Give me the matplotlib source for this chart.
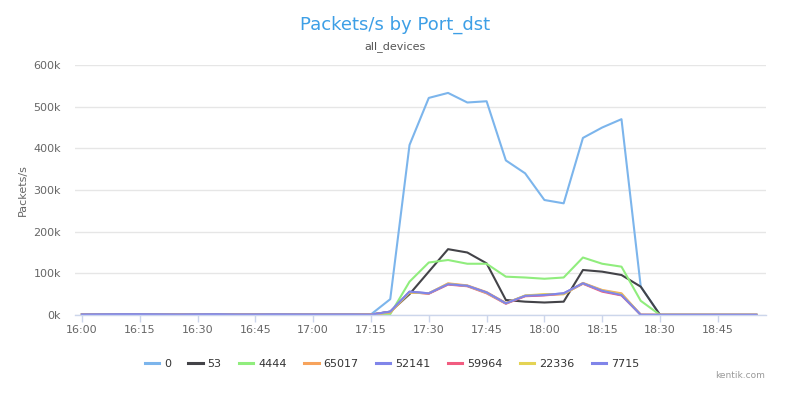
import matplotlib
matplotlib.use('Agg')
import matplotlib.pyplot as plt
import matplotlib.dates as mdates
import pandas as pd

plt.rcParams['font.family'] = ['DejaVu Sans']

# 5-minute samples, 16:00 .. 18:55
times = pd.date_range('2017-01-01 16:00', '2017-01-01 18:55', freq='5min')

lead = [1500, 1800, 2000, 2000, 1800, 1500, 1800, 2000, 1500, 1500, 1800, 1600, 1500, 1500, 1500]
tail = [300, 300, 300, 300, 300, 300]

port_0 = lead + [1500, 38000, 408000, 521000, 533000, 510000, 513000, 371000, 340000,
                 276000, 268000, 425000, 450000, 470000, 68000] + tail
port_53 = lead + [1000, 8000, 50000, 104000, 158000, 150000, 124000, 36000, 32000,
                  30000, 32000, 108000, 104000, 96000, 68000] + tail
port_4444 = lead + [1000, 2000, 80000, 126000, 132000, 123000, 123000, 92000, 90000,
                    87000, 90000, 138000, 123000, 116000, 34000] + tail
port_65017 = lead + [1000, 6000, 54000, 52000, 76000, 71000, 55000, 29000, 46000,
                     49000, 50000, 77000, 60000, 52000, 500] + tail
port_52141 = lead + [1000, 8000, 56000, 52000, 74000, 70000, 54000, 28000, 46000,
                     48000, 52000, 76000, 58000, 48000, 500] + tail
port_59964 = lead + [1000, 7000, 55000, 51000, 73000, 69000, 52000, 27000, 45000,
                     47000, 51000, 75000, 56000, 47000, 500] + tail
port_22336 = lead + [1000, 6500, 54000, 52000, 75000, 70000, 53000, 28000, 47000,
                     50000, 50000, 76000, 59000, 50000, 500] + tail
port_7715 = lead + [1000, 8000, 56000, 52000, 74000, 70000, 54000, 28000, 46000,
                    48000, 52000, 76000, 58000, 48000, 500] + tail

labels = ['0', '53', '4444', '65017', '52141', '59964', '22336', '7715']
series = [port_0, port_53, port_4444, port_65017, port_52141, port_59964, port_22336, port_7715]
colors = ['#7cb5ec', '#434348', '#90ed7d', '#f7a35c', '#8085e9', '#f15c80', '#e4d354', '#8085e9']

yticks = [0, 100000, 200000, 300000, 400000, 500000, 600000]
ytick_labels = ['0k', '100k', '200k', '300k', '400k', '500k', '600k']

fig = plt.figure(figsize=(7.9, 3.97), dpi=100)
ax = fig.add_axes([75 / 790, 1 - 315 / 397, (766 - 75) / 790, (315 - 65) / 397])

for vals, lab, col in zip(series, labels, colors):
    ax.plot(times, vals, color=col, lw=1.5, label=lab, solid_joinstyle='round')

ax.set_ylim(0, 600000)
ax.set_xlim(times[0] - pd.Timedelta(minutes=1.8), times[-1] + pd.Timedelta(minutes=2.5))
ax.set_yticks(yticks)
ax.set_yticklabels(ytick_labels)
ax.xaxis.set_major_locator(mdates.MinuteLocator(byminute=[0, 15, 30, 45]))
ax.xaxis.set_major_formatter(mdates.DateFormatter('%H:%M'))

ax.grid(axis='y', color='#e6e6e6', lw=1)
ax.set_axisbelow(True)
for s in ['top', 'right', 'left']:
    ax.spines[s].set_visible(False)
ax.spines['bottom'].set_color('#ccd6eb')
ax.spines['bottom'].set_linewidth(1)
ax.tick_params(axis='y', length=0, pad=10, labelsize=8, labelcolor='#666666')
ax.tick_params(axis='x', length=5, width=1, color='#ccd6eb', pad=2,
               labelsize=8, labelcolor='#666666')

ax.set_ylabel('Packets/s', fontsize=8, color='#666666', labelpad=4)

fig.text(0.5, 1 - 25 / 397, 'Packets/s by Port_dst', ha='center', va='center',
         fontsize=13, color='#3d9fe6')
fig.text(0.5, 1 - 47 / 397, 'all_devices', ha='center', va='center',
         fontsize=8, color='#555555')
fig.text(740 / 790, 1 - 375 / 397, 'kentik.com', ha='center', va='center',
         fontsize=6.5, color='#999999')

leg = fig.legend(loc='center', bbox_to_anchor=(392 / 790, 1 - 364 / 397), ncol=8,
                 frameon=False, fontsize=8, handlelength=1.3, handletextpad=0.45,
                 columnspacing=1.55)
for h in leg.get_lines():
    h.set_linewidth(2.2)
for t in leg.get_texts():
    t.set_color('#333333')

fig.savefig('out.png', dpi=100, facecolor='white')
